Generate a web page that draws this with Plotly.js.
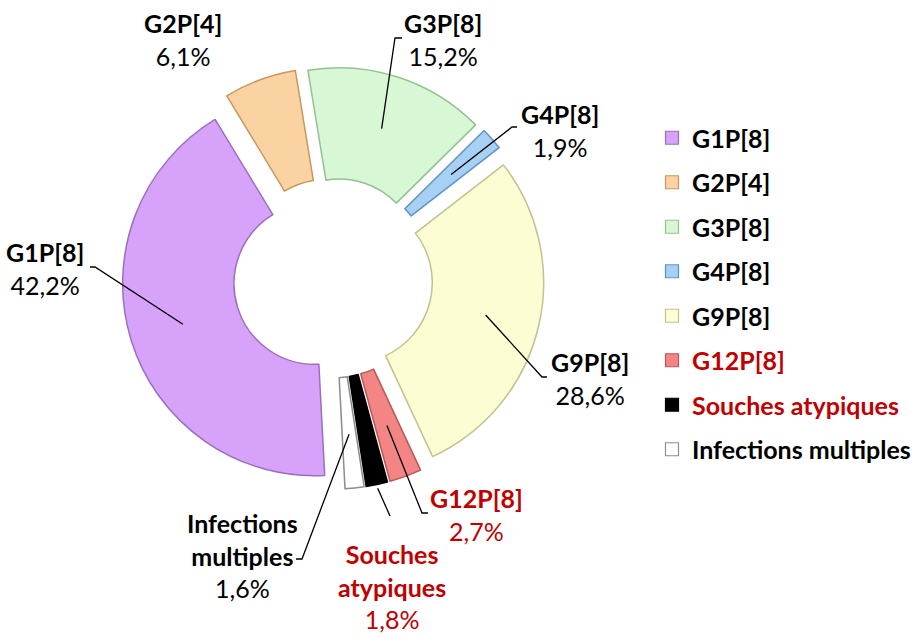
<!DOCTYPE html>
<html><head><meta charset="utf-8">
<script src="https://cdn.plot.ly/plotly-3.0.1.min.js"></script>
<style>html,body{margin:0;padding:0;background:#fff}</style>
</head><body>
<div id="chart" style="width:916px;height:638px"></div>
<script>
// ---- data ----
const categories = ['G1P[8]', 'G2P[4]', 'G3P[8]', 'G4P[8]', 'G9P[8]', 'G12P[8]', 'Souches atypiques', 'Infections multiples'];
const values = [42.2, 6.1, 15.2, 1.9, 28.6, 2.7, 1.8, 1.6];
const percentLabels = ['42,2%', '6,1%', '15,2%', '1,9%', '28,6%', '2,7%', '1,8%', '1,6%'];
const labelLines = [['G1P[8]'], ['G2P[4]'], ['G3P[8]'], ['G4P[8]'], ['G9P[8]'], ['G12P[8]'], ['Souches', 'atypiques'], ['Infections', 'multiples']];
const highlighted = [false, false, false, false, false, true, true, false];

// ---- styles ----
const fillColors = ['#D6A2FA', '#FBD3A2', '#D8F7D5', '#A7D0F5', '#FDFDD3', '#F48585', '#000000', '#FFFFFF'];
const lineColors = ['#9A70BE', '#C8975F', '#94C290', '#6392C2', '#C2C290', '#B85858', '#000000', '#8C8C8C'];
const RED = '#C00000';
const FONT = 'Lato, "Open Sans", sans-serif';

// ---- geometry (pixels) ----
const W = 916, H = 638;
const CX = 333, CY = 278, R = 192, PULL = 0.1, ROT = 177, HOLE = 0.42;
const half = R * (1 + PULL);
const domain = {x: [(CX - half) / W, (CX + half) / W], y: [1 - (CY + half) / H, 1 - (CY - half) / H]};

// label layout (pixel positions of text block centres, leader elbows/tails)
const textPos = [[45, 268], [183, 40], [443, 39], [560, 130], [590, 378], [477, 514], [392, 586], [242, 555]];
const headRadius = [0.818, null, 0.818, 0.818, 0.818, 0.818, 1.12, 0.818];
const elbows = [[95, 267], null, [395, 38], [512, 127], [542, 377], [422, 513], null, [302, 559]];
const tails = [[90, 267], null, [402, 38], [517, 127], [547, 377], [428, 513], [390, 516], [296, 559]];

const px = x => x / W, py = y => 1 - y / H;
const total = values.reduce((a, b) => a + b, 0);

const annotations = [];
const shapes = [];
let cum = 0;
values.forEach((v, i) => {
  const theta = (ROT + 360 * (cum + v / 2) / total) * Math.PI / 180;
  cum += v;
  const color = highlighted[i] ? RED : '#000000';
  const txt = labelLines[i].map(s => '<b>' + s + '</b>').join('<br>') + '<br>' + percentLabels[i];
  annotations.push({
    x: px(textPos[i][0]), y: py(textPos[i][1]), xref: 'paper', yref: 'paper',
    xanchor: 'center', yanchor: 'middle', align: 'center', showarrow: false,
    text: txt, font: {family: FONT, size: 25, color: color}
  });
  if (headRadius[i] !== null) {
    const hx = CX + headRadius[i] * R * Math.sin(theta);
    const hy = CY - headRadius[i] * R * Math.cos(theta);
    let path = 'M ' + px(hx) + ',' + py(hy);
    if (elbows[i]) path += ' L ' + px(elbows[i][0]) + ',' + py(elbows[i][1]);
    path += ' L ' + px(tails[i][0]) + ',' + py(tails[i][1]);
    shapes.push({type: 'path', xref: 'paper', yref: 'paper', path: path, line: {color: '#000000', width: 1.3}});
  }
});

const pieTrace = {
  type: 'pie', labels: categories, values: values, sort: false, direction: 'clockwise',
  rotation: ROT, hole: HOLE, pull: PULL, textinfo: 'none', hoverinfo: 'label+percent',
  showlegend: false, domain: domain,
  marker: {colors: fillColors, line: {color: lineColors, width: 1.5}}
};

const legendTraces = categories.map((c, i) => ({
  type: 'scatter', x: [null], y: [null], mode: 'markers', hoverinfo: 'skip',
  name: highlighted[i] ? '<b><span style="color:' + RED + '">' + c + '</span></b>' : '<b>' + c + '</b>',
  legendgroup: 'g' + i,
  marker: {symbol: 'square', size: 13, color: fillColors[i], line: {color: lineColors[i], width: 1.2}}
}));

const layout = {
  width: W, height: H, margin: {l: 0, r: 0, t: 0, b: 0, autoexpand: false},
  paper_bgcolor: '#ffffff', plot_bgcolor: '#ffffff',
  xaxis: {visible: false}, yaxis: {visible: false},
  showlegend: true,
  legend: {x: 652 / W, xanchor: 'left', y: py(115), yanchor: 'top', tracegroupgap: 9,
    bgcolor: 'rgba(0,0,0,0)', font: {family: FONT, size: 25, color: '#000000'}},
  annotations: annotations, shapes: shapes
};

Plotly.newPlot('chart', [pieTrace].concat(legendTraces), layout, {displayModeBar: false, staticPlot: true});
</script>
</body></html>
